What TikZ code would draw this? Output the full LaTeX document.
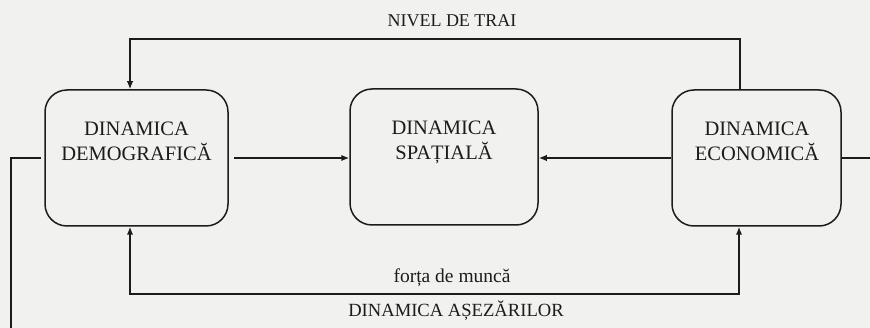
\documentclass[tikz,border=0pt]{standalone}
\usepackage{fontspec}
\setmainfont{Liberation Serif}
\usetikzlibrary{arrows.meta}
\definecolor{paper}{RGB}{241,241,239}
\definecolor{ink}{RGB}{28,28,28}
\begin{document}
\begin{tikzpicture}[x=1pt,y=1pt,
  box/.style={draw=ink,line width=1.5pt,rounded corners=22pt,minimum width=#1,minimum height=136pt,inner sep=0pt},
  boxtxt/.style={font=\fontsize{20.5}{25.5}\selectfont,align=center,text=ink,text height=14pt,text depth=0pt,inner sep=0pt},
  lab/.style={font=\fontsize{#1}{#1}\selectfont,text=ink,inner sep=0pt,anchor=base},
  conn/.style={draw=ink,line width=1.5pt},
  tip/.tip={Latex[length=8pt,width=6.5pt]},
  arr/.style={conn,-tip}]
\path[use as bounding box,fill=paper] (0,0) rectangle (870,-328);

% boxes
\node[box=183] (dem) at (136.5,-158) {};
\node[box=188] (spa) at (444,-157) {};
\node[box=169] (eco) at (756.5,-158) {};
\node[boxtxt] (demt) at (136.5,-154) {DINAMICA\\DEMOGRAFICĂ};
\node[boxtxt] (spat) at (444,-152.75) {DINAMICA\\SPAȚIALĂ};
\node[boxtxt] (ecot) at (757,-154) {DINAMICA\\ECONOMICĂ};

% labels
\node[lab=18] (niv) at (452,-27) {NIVEL DE TRAI};
\node[lab=19.5] (forta) at (452,-283) {forța de muncă};
\node[lab=18.6] (ase) at (456,-317) {DINAMICA AȘEZĂRILOR};

% top loop: economica -> demografica
\coordinate (tL) at (130,-39);
\coordinate (tR) at (740,-39);
\draw[arr] (eco.north -| tR) -- (tR) -- (tL) -- (dem.north -| tL);

% bottom loop: forta de munca, both ways
\coordinate (bL) at (130,-294);
\coordinate (bR) at (739,-294);
\draw[conn,tip-tip] (dem.south -| bL) -- (bL) -- (bR) -- (eco.south -| bR);

% into spatiala
\draw[arr] ([xshift=5pt]dem.east) -- (spa.west |- dem.east);
\draw[arr] (eco.west) -- (spa.east |- eco.west);

% outgoing lines cut at the edges
\coordinate (lb) at (11,-330);
\draw[conn] ([xshift=-3pt]dem.west) -- (dem.west -| lb) -- (lb);
\coordinate (rb) at (872,-158);
\draw[conn] (eco.east) -- (rb);
\end{tikzpicture}
\end{document}
